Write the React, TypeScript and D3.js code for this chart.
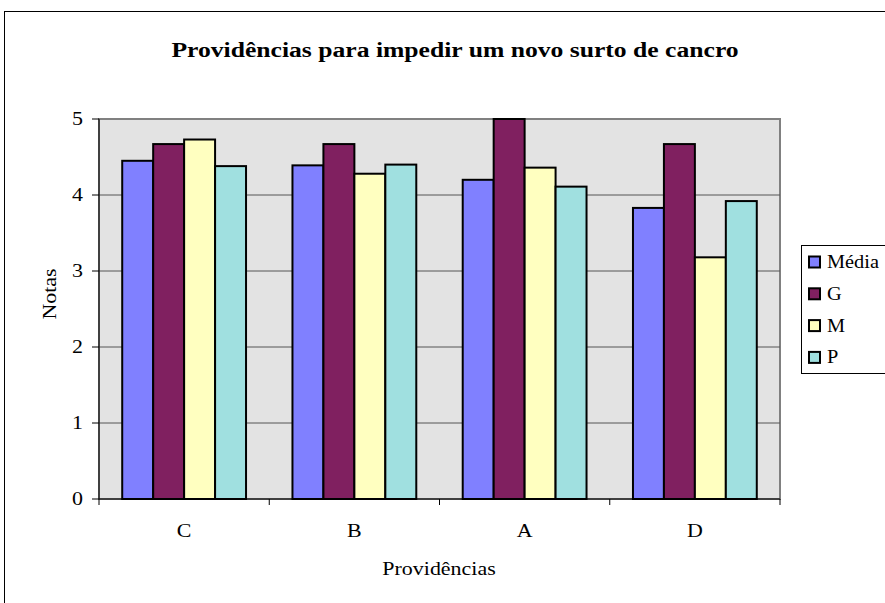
import React from "react";
import * as d3 from "d3";

const categories = ["C", "B", "A", "D"];
const seriesNames = ["Média", "G", "M", "P"];
const media = [4.45, 4.39, 4.2, 3.83];
const gValues = [4.67, 4.67, 5.0, 4.67];
const mValues = [4.73, 4.28, 4.36, 3.18];
const pValues = [4.38, 4.4, 4.11, 3.92];
const yTicks = [0, 1, 2, 3, 4, 5];
const colors = ["#8080FF", "#802060", "#FFFFC0", "#A0E0E0"];

const seriesValues = [media, gValues, mValues, pValues];

function SText(props: {
  x: number;
  y: number;
  s?: number;
  rot?: number;
  anchor?: string;
  size?: number;
  bold?: boolean;
  children: React.ReactNode;
}) {
  const { x, y, s = 1.22, rot = 0, anchor = "start", size = 18, bold = false, children } = props;
  return (
    <g transform={`translate(${x},${y}) rotate(${rot}) scale(${s},1)`}>
      <text x={0} y={0} textAnchor={anchor} fontSize={size} fontWeight={bold ? "bold" : "normal"}>
        {children}
      </text>
    </g>
  );
}

export default function App() {
  const W = 885;
  const H = 603;
  const left = 99;
  const right = 780;
  const top = 119;
  const bottom = 499;

  const x0 = d3.scaleBand<string>().domain(categories).range([left, right]).paddingInner(0).paddingOuter(0);
  const bw = x0.bandwidth();
  const barW = bw / 5.5;
  const x1 = d3.scaleBand<string>().domain(seriesNames).range([0.75 * barW, 0.75 * barW + 4 * barW]);
  const y = d3.scaleLinear().domain([0, 5]).range([bottom, top]);
  const font = "'Liberation Serif', 'Times New Roman', serif";

  return (
    <svg width={W} height={H} style={{ position: "absolute", left: 0, top: 0 }} fontFamily={font}>
      <rect x={0} y={0} width={W} height={H} fill="#fff" />
      <rect x={4.5} y={11.5} width={1000} height={1000} fill="none" stroke="#000" strokeWidth={1} />
      <SText x={455} y={57} anchor="middle" size={22} bold s={1.165}>
        Providências para impedir um novo surto de cancro
      </SText>
      <rect x={left} y={top} width={right - left} height={bottom - top} fill="#E3E3E3" stroke="#808080" strokeWidth={2} />
      {yTicks.slice(1, 5).map((t) => (
        <line key={t} x1={left} x2={right} y1={y(t)} y2={y(t)} stroke="#555" strokeWidth={1} />
      ))}
      {categories.map((c, ci) =>
        seriesNames.map((s, si) => {
          const v = seriesValues[si][ci];
          return (
            <rect
              key={c + s}
              x={(x0(c) as number) + (x1(s) as number)}
              y={y(v)}
              width={x1.bandwidth()}
              height={bottom - y(v)}
              fill={colors[si]}
              stroke="#000"
              strokeWidth={2}
            />
          );
        })
      )}
      <line x1={left} x2={left} y1={top} y2={bottom} stroke="#000" strokeWidth={1} />
      <line x1={left} x2={right} y1={bottom} y2={bottom} stroke="#000" strokeWidth={1} />
      {yTicks.map((t) => (
        <g key={t}>
          <line x1={left - 7} x2={left} y1={y(t)} y2={y(t)} stroke="#000" />
          <SText x={83} y={y(t) + 6} anchor="end">
            {t}
          </SText>
        </g>
      ))}
      {[...categories.map((c) => x0(c) as number), right].map((xv, i) => (
        <line key={i} x1={xv} x2={xv} y1={bottom} y2={bottom + 6} stroke="#000" />
      ))}
      {categories.map((c) => (
        <SText key={c} x={(x0(c) as number) + bw / 2} y={537} anchor="middle">
          {c}
        </SText>
      ))}
      <SText x={439} y={575} anchor="middle">
        Providências
      </SText>
      <SText x={56} y={294} anchor="middle" rot={-90}>
        Notas
      </SText>
      <rect x={801.5} y={245.5} width={200} height={128} fill="#fff" stroke="#000" strokeWidth={1} />
      {seriesNames.map((s, i) => {
        const cy = 262 + i * 31.8;
        return (
          <g key={s}>
            <rect x={809} y={cy - 5.5} width={11} height={11} fill={colors[i]} stroke="#000" strokeWidth={2} />
            <SText x={827} y={cy + 6} s={1.13}>
              {s}
            </SText>
          </g>
        );
      })}
    </svg>
  );
}
